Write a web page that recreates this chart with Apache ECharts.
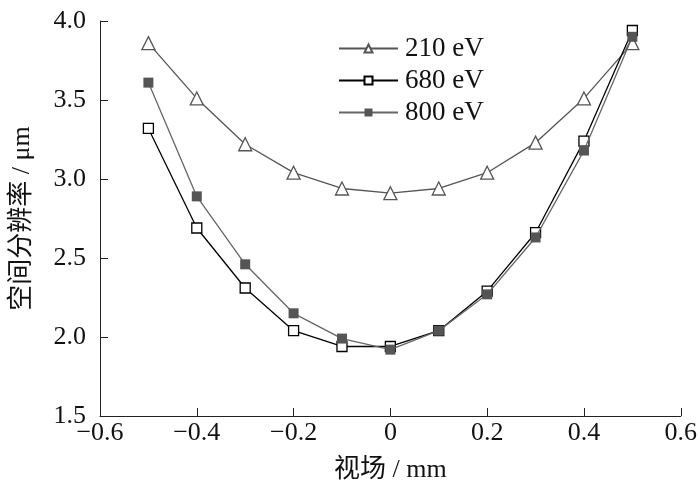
<!DOCTYPE html>
<html>
<head>
<meta charset="UTF-8">
<title>空间分辨率</title>
<style>
  html, body { margin: 0; padding: 0; background: #fff; }
  #box { width: 700px; height: 491px; }
</style>
<script src="https://cdn.jsdelivr.net/npm/echarts@6/dist/echarts.min.js"></script>
</head>
<body>
<div id="box"></div>
<script>
var chart = echarts.init(document.getElementById('box'));

// 视场 / mm
var fieldMm = [-0.5, -0.4, -0.3, -0.2, -0.1, 0, 0.1, 0.2, 0.3, 0.4, 0.5];
// 空间分辨率 / μm
var res210 = [3.86, 3.51, 3.22, 3.04, 2.94, 2.91, 2.94, 3.04, 3.23, 3.51, 3.86];
var res680 = [3.32, 2.69, 2.31, 2.04, 1.94, 1.94, 2.04, 2.29, 2.66, 3.24, 3.94];
var res800 = [3.61, 2.89, 2.46, 2.15, 1.99, 1.92, 2.04, 2.27, 2.63, 3.18, 3.90];

function pairs(ys) {
  return fieldMm.map(function (x, i) { return [x, ys[i]]; });
}

var serif = 'Liberation Serif, Times New Roman, Noto Sans CJK SC, serif';

var axisCommon = {
  axisLine: { onZero: false, lineStyle: { color: '#222', width: 1 } },
  axisTick: { inside: true, length: 8, lineStyle: { color: '#222' } },
  splitLine: { show: false },
  axisLabel: { color: '#111', fontSize: 26, fontFamily: serif }
};

var option = {
  animation: false,
  backgroundColor: '#fff',
  grid: { left: 100, right: 15, top: 21, bottom: 75 },
  legend: {
    top: 30,
    left: 333,
    orient: 'vertical',
    itemWidth: 59,
    itemHeight: 10,
    itemGap: 5,
    textStyle: { fontSize: 27, fontFamily: serif, color: '#111', padding: [0, 0, 0, 2] },
    data: ['210 eV', '680 eV', '800 eV']
  },
  xAxis: Object.assign({}, axisCommon, {
    type: 'value',
    min: -0.6,
    max: 0.6,
    interval: 0.2,
    name: '视场 / mm',
    nameLocation: 'middle',
    nameGap: 41,
    nameTextStyle: { fontSize: 26, fontFamily: serif, color: '#111' },
    axisLabel: Object.assign({}, axisCommon.axisLabel, {
      margin: 4,
      formatter: function (v) {
        if (Math.abs(v) < 1e-9) return '0';
        return v.toFixed(1).replace('-', '\u2212');
      }
    })
  }),
  yAxis: Object.assign({}, axisCommon, {
    type: 'value',
    min: 1.5,
    max: 4.0,
    interval: 0.5,
    name: '空间分辨率 / μm',
    nameLocation: 'middle',
    nameGap: 65,
    nameTextStyle: { fontSize: 26, fontFamily: serif, color: '#111' },
    axisLabel: Object.assign({}, axisCommon.axisLabel, {
      margin: 14,
      formatter: function (v) { return v.toFixed(1); }
    })
  }),
  series: [
    {
      name: '210 eV',
      type: 'line',
      data: pairs(res210),
      symbol: 'triangle',
      symbolSize: 13,
      lineStyle: { color: '#555', width: 1.3 },
      itemStyle: { color: '#fff', borderColor: '#555', borderWidth: 1.3 },
      z: 2
    },
    {
      name: '680 eV',
      type: 'line',
      data: pairs(res680),
      symbol: 'rect',
      symbolSize: 10,
      lineStyle: { color: '#000', width: 1.3 },
      itemStyle: { color: '#fff', borderColor: '#000', borderWidth: 1.3 },
      z: 3
    },
    {
      name: '800 eV',
      type: 'line',
      data: pairs(res800),
      symbol: 'rect',
      symbolSize: 10,
      lineStyle: { color: '#666', width: 1.3 },
      itemStyle: { color: '#555', borderColor: '#555', borderWidth: 0 },
      z: 4
    }
  ]
};

chart.setOption(option);
</script>
</body>
</html>
